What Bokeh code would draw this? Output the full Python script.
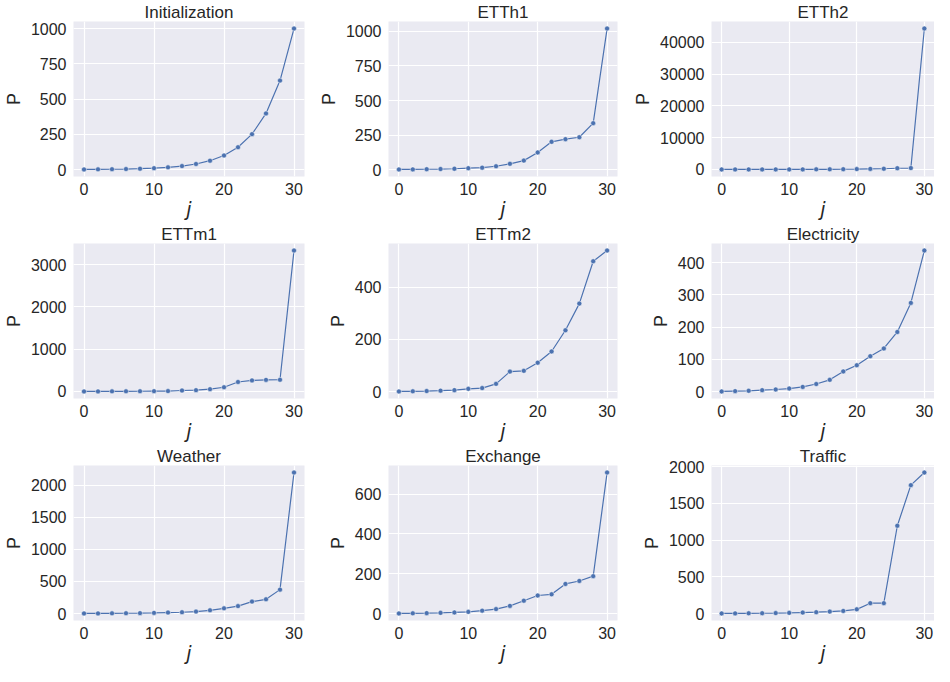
from bokeh.plotting import figure
from bokeh.layouts import gridplot
from bokeh.models import Range1d
from bokeh.embed import file_html
from bokeh.resources import INLINE

# ---- data ----
j_vals = [0, 2, 4, 6, 8, 10, 12, 14, 16, 18, 20, 22, 24, 26, 28, 30]

titles = ["Initialization", "ETTh1", "ETTh2",
          "ETTm1", "ETTm2", "Electricity",
          "Weather", "Exchange", "Traffic"]

init_vals = [1.0, 1.6, 2.5, 4.0, 6.3, 10.0, 15.8, 25.1, 39.8, 63.1, 100.0, 158.5, 251.2, 398.1, 631.0, 1000.0]
etth1_vals = [1, 1.5, 2.5, 4, 6, 10, 14, 24, 42, 65, 124, 201, 220, 234, 336, 1021]
etth2_vals = [1, 2, 3, 5, 8, 12, 18, 28, 45, 70, 110, 170, 230, 380, 450, 44300]
ettm1_vals = [1, 2, 3, 4, 6, 8, 10, 23, 31, 54, 100, 225, 262, 275, 278, 3336]
ettm2_vals = [1, 1.5, 2.5, 4, 6, 11, 14, 30, 77, 80, 111, 154, 235, 337, 499, 540]
elec_vals = [1, 2, 3, 5, 7, 10, 15, 24, 37, 63, 82, 110, 134, 185, 275, 437]
weather_vals = [1, 1.5, 2.5, 4, 6, 10, 15, 20, 30, 50, 81, 116, 186, 222, 373, 2201]
exch_vals = [1, 1.5, 2.5, 4, 6, 9, 15, 23, 39, 65, 91, 97, 149, 164, 188, 708]
traffic_vals = [1, 2, 3, 4, 6, 9, 13, 18, 26, 35, 57, 141, 141, 1196, 1749, 1921]

series = [init_vals, etth1_vals, etth2_vals,
          ettm1_vals, ettm2_vals, elec_vals,
          weather_vals, exch_vals, traffic_vals]

x_ticks = [0, 10, 20, 30]
y_ticks = [
    [0, 250, 500, 750, 1000],
    [0, 250, 500, 750, 1000],
    [0, 10000, 20000, 30000, 40000],
    [0, 1000, 2000, 3000],
    [0, 200, 400],
    [0, 100, 200, 300, 400],
    [0, 500, 1000, 1500, 2000],
    [0, 200, 400, 600],
    [0, 500, 1000, 1500, 2000],
]

# ---- style ----
BG = "#EAEAF2"
LINE = "#4C72B0"
TXT = "#262626"
FONT = "Liberation Sans"

col_w = [315, 315, 304]
col_left = [63, 60, 69]
col_right = [11, 13, 0]
row_h = 222

figs = []
for i, (t, ys) in enumerate(zip(titles, series)):
    c = i % 3
    p = figure(width=col_w[c], height=row_h, output_backend="svg",
               toolbar_location=None,
               min_border_left=col_left[c], min_border_right=col_right[c],
               min_border_top=18, min_border_bottom=46)
    p.title.text = t
    p.title.align = "center"
    p.title.text_font = FONT
    p.title.text_font_size = "17px"
    p.title.text_font_style = "normal"
    p.title.text_color = TXT
    p.title.standoff = 0
    p.title.offset = 0

    xspan = max(j_vals) - min(j_vals)
    p.x_range = Range1d(min(j_vals) - 0.05 * xspan, max(j_vals) + 0.05 * xspan)
    yspan = max(ys) - min(ys)
    p.y_range = Range1d(min(ys) - 0.05 * yspan, max(ys) + 0.05 * yspan)

    p.background_fill_color = BG
    p.border_fill_color = "white"
    p.outline_line_color = None

    p.line(j_vals, ys, line_color=LINE, line_width=1.2)
    p.scatter(j_vals, ys, size=5, fill_color=LINE, line_color="white", line_width=0.5)

    p.xaxis.ticker = x_ticks
    p.yaxis.ticker = y_ticks[i]
    for ax in (p.xaxis[0], p.yaxis[0]):
        ax.axis_line_color = None
        ax.major_tick_line_color = None
        ax.minor_tick_line_color = None
        ax.major_tick_out = 0
        ax.major_tick_in = 0
        ax.minor_tick_out = 0
        ax.minor_tick_in = 0
        ax.major_label_text_font = FONT
        ax.major_label_text_font_size = "16px"
        ax.major_label_text_color = TXT
        ax.axis_label_text_color = TXT
    p.yaxis.major_label_standoff = 7
    p.yaxis.axis_label_standoff = 4
    p.xaxis.major_label_standoff = 6
    p.xaxis.axis_label_standoff = 0
    p.xaxis.axis_label = "j"
    p.xaxis.axis_label_text_font = "DejaVu Sans"
    p.xaxis.axis_label_text_font_style = "italic"
    p.xaxis.axis_label_text_font_size = "19px"
    p.yaxis.axis_label = "P"
    p.yaxis.axis_label_text_font = FONT
    p.yaxis.axis_label_text_font_style = "normal"
    p.yaxis.axis_label_text_font_size = "18px"

    p.xgrid.grid_line_color = "white"
    p.ygrid.grid_line_color = "white"
    p.xgrid.grid_line_width = 1.2
    p.ygrid.grid_line_width = 1.2
    figs.append(p)

grid = gridplot([figs[0:3], figs[3:6], figs[6:9]], toolbar_location=None)

with open("out.html", "w") as f:
    f.write(file_html(grid, INLINE))
